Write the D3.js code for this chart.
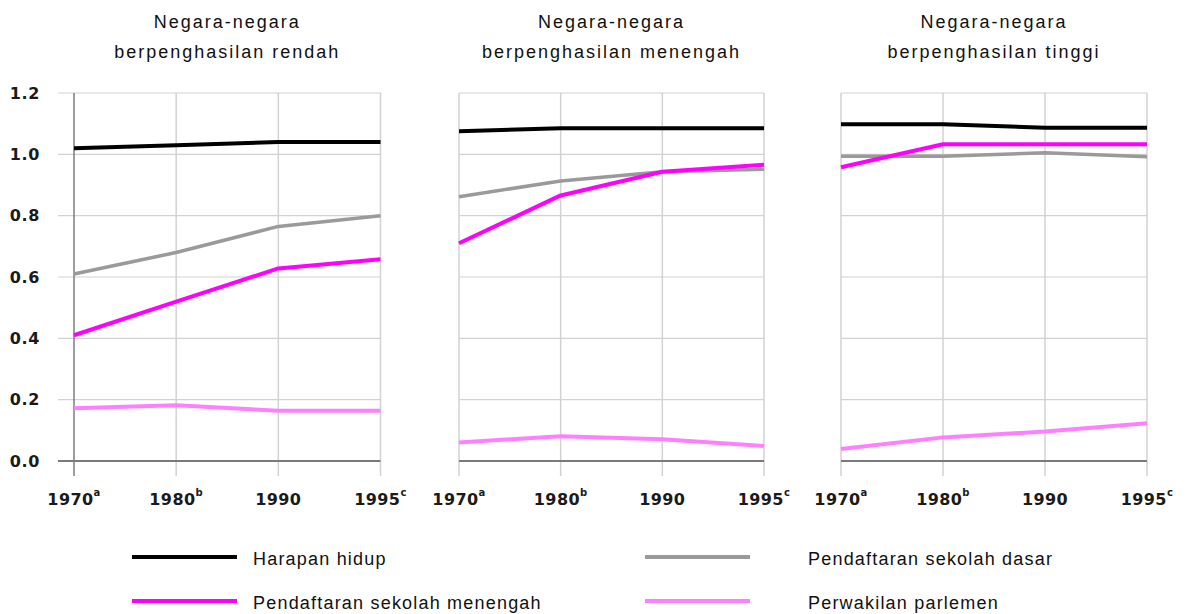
<!DOCTYPE html>
<html>
<head>
<meta charset="utf-8">
<script src="https://cdn.jsdelivr.net/npm/d3@7"></script>
<style>
  body { margin: 0; background: #fff; }
  svg { display: block; }
</style>
</head>
<body>
<div id="chart-area"></div>
<script>
// data
var years = ["1970", "1980", "1990", "1995"];
var yearNotes = ["a", "b", "", "c"];
var yTicks = [0, 0.2, 0.4, 0.6, 0.8, 1.0, 1.2];
var panelTitles = [
    ["Negara-negara", "berpenghasilan rendah"],
    ["Negara-negara", "berpenghasilan menengah"],
    ["Negara-negara", "berpenghasilan tinggi"]
];
var seriesNames = ["Harapan hidup", "Pendaftaran sekolah dasar",
    "Pendaftaran sekolah menengah", "Perwakilan parlemen"];

// one row per panel (rendah, menengah, tinggi)
var harapanHidup = [
    [1.02, 1.03, 1.04, 1.04],
    [1.075, 1.085, 1.085, 1.085],
    [1.098, 1.098, 1.087, 1.087]
];
var sekolahDasar = [
    [0.61, 0.68, 0.765, 0.80],
    [0.862, 0.913, 0.943, 0.951],
    [0.994, 0.994, 1.005, 0.992]
];
var sekolahMenengah = [
    [0.41, 0.52, 0.628, 0.658],
    [0.71, 0.866, 0.943, 0.966],
    [0.958, 1.033, 1.033, 1.033]
];
var parlemen = [
    [0.172, 0.182, 0.164, 0.164],
    [0.06, 0.081, 0.071, 0.049],
    [0.039, 0.077, 0.096, 0.123]
];

var W = 1189, H = 614;
var svg = d3.select("#chart-area").append("svg")
    .attr("width", W)
    .attr("height", H);

var styles = [
    { color: "#000000", width: 4 },
    { color: "#9a9a9a", width: 3.5 },
    { color: "#ff00ff", width: 4 },
    { color: "#ff80ff", width: 4 }
];
var allSeries = [harapanHidup, sekolahDasar, sekolahMenengah, parlemen];
var drawOrder = [1, 2, 0, 3];

var panelRanges = [[74, 380.5], [459, 764], [841, 1147]];

var y = d3.scaleLinear()
    .domain([0, 1.2])
    .range([461, 93]);

var gridColor = "#d2d2d2";
var fontMain = "'Liberation Sans', Arial, sans-serif";
var fontBold = "'DejaVu Sans', sans-serif";

panelRanges.forEach(function(r, p) {
    var x = d3.scalePoint()
        .domain(years)
        .range(r);

    var g = svg.append("g");
    var left = p === 0 ? 58 : r[0];

    // horizontal grid
    g.selectAll("line.h")
        .data(yTicks.filter(function(t){ return t > 0; }))
        .enter()
        .append("line")
        .attr("x1", left)
        .attr("x2", r[1])
        .attr("y1", function(d){ return y(d); })
        .attr("y2", function(d){ return y(d); })
        .attr("stroke", gridColor)
        .attr("stroke-width", 1.2);

    // vertical grid
    g.selectAll("line.v")
        .data(years)
        .enter()
        .append("line")
        .attr("x1", function(d){ return x(d); })
        .attr("x2", function(d){ return x(d); })
        .attr("y1", y(1.2))
        .attr("y2", 476)
        .attr("stroke", function(d, i){ return (p === 0 && i === 0) ? "#6a6a6a" : gridColor; })
        .attr("stroke-width", function(d, i){ return (p === 0 && i === 0) ? 1.3 : 1.5; });

    // baseline
    g.append("line")
        .attr("x1", left)
        .attr("x2", r[1])
        .attr("y1", y(0))
        .attr("y2", y(0))
        .attr("stroke", "#7a7a7a")
        .attr("stroke-width", 1.8);

    // y labels only on first panel
    if (p === 0) {
        g.selectAll("text.yl")
            .data(yTicks)
            .enter()
            .append("text")
            .attr("x", 40)
            .attr("y", function(d){ return y(d); })
            .attr("dy", "0.36em")
            .attr("text-anchor", "end")
            .attr("font-family", fontBold)
            .attr("font-weight", "bold")
            .attr("font-size", 16)
            .attr("letter-spacing", 0.6)
            .attr("fill", "#1a1a1a")
            .text(function(d){ return d3.format(".1f")(d); });
    }

    // x labels with superscript notes
    var xl = g.selectAll("text.xl")
        .data(years)
        .enter()
        .append("text")
        .attr("x", function(d){ return x(d); })
        .attr("y", 505)
        .attr("text-anchor", "middle")
        .attr("font-family", fontBold)
        .attr("font-weight", "bold")
        .attr("font-size", 16)
        .attr("letter-spacing", 0.4)
        .attr("fill", "#1a1a1a");
    xl.append("tspan").text(function(d){ return d; });
    xl.append("tspan")
        .attr("font-size", 10)
        .attr("dy", -9)
        .text(function(d, i){ return yearNotes[i]; });

    // title
    var cx = (r[0] + r[1]) / 2;
    svg.append("text")
        .attr("x", cx)
        .attr("y", 28)
        .attr("text-anchor", "middle")
        .attr("font-family", fontMain)
        .attr("font-size", 18)
        .attr("letter-spacing", 2)
        .attr("fill", "#111")
        .text(panelTitles[p][0]);
    svg.append("text")
        .attr("x", cx)
        .attr("y", 58)
        .attr("text-anchor", "middle")
        .attr("font-family", fontMain)
        .attr("font-size", 18)
        .attr("letter-spacing", 2)
        .attr("fill", "#111")
        .text(panelTitles[p][1]);

    // lines
    var line = d3.line()
        .x(function(d, i){ return x(years[i]); })
        .y(function(d){ return y(d); });

    drawOrder.forEach(function(s) {
        g.append("path")
            .datum(allSeries[s][p])
            .attr("d", line)
            .attr("fill", "none")
            .attr("stroke", styles[s].color)
            .attr("stroke-width", styles[s].width)
            .attr("stroke-linejoin", "round");
    });
});

// legend
var legendPos = [
    { x: 132, y: 557 },
    { x: 645, y: 557 },
    { x: 132, y: 601 },
    { x: 645, y: 601 }
];
seriesNames.forEach(function(name, i) {
    var lp = legendPos[i];
    svg.append("line")
        .attr("x1", lp.x)
        .attr("x2", lp.x + 105)
        .attr("y1", lp.y)
        .attr("y2", lp.y)
        .attr("stroke", styles[i].color)
        .attr("stroke-width", 4);
    svg.append("text")
        .attr("x", lp.x + 121 + (i % 2 === 1 ? 42 : 0))
        .attr("y", lp.y + 8)
        .attr("font-family", fontMain)
        .attr("font-size", 18)
        .attr("letter-spacing", 1.2)
        .attr("fill", "#111")
        .text(name);
});
</script>
</body>
</html>
